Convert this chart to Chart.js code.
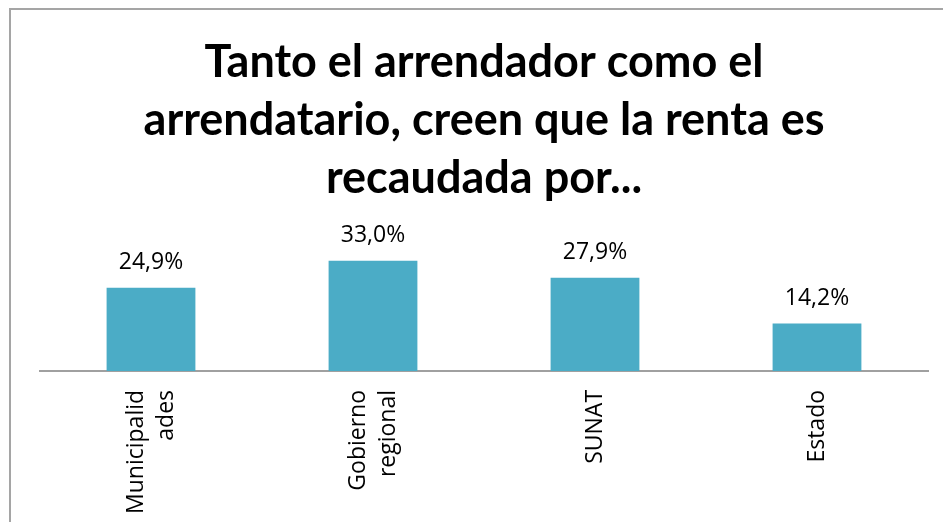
<!DOCTYPE html>
<html>
<head>
<meta charset="utf-8">
<script src="https://cdn.jsdelivr.net/npm/chart.js@4.4.0/dist/chart.umd.min.js"></script>
<style>
  html, body { margin: 0; padding: 0; overflow: hidden; background: #fff; }
  #wrap { position: relative; width: 943px; height: 522px; }
  #frame { position: absolute; left: 9px; top: 8px; width: 1000px; height: 600px;
           border: 2px solid #a5a5a5; pointer-events: none; }
</style>
</head>
<body>
<div id="wrap">
  <canvas id="bar-chartcanvas-1"></canvas>
  <div id="frame"></div>
</div>
<script>
// chart data
var titleLines = ["Tanto el arrendador como el", "arrendatario, creen que la renta es", "recaudada por..."];
var categories = [["Municipalid", "ades"], ["Gobierno", "regional"], "SUNAT", "Estado"];
var percentValues = [24.9, 33.0, 27.9, 14.2];

//value labels on top of each bar
var valueLabels = {
    id: "valueLabels",
    afterDatasetsDraw: function(chart) {
        var ctx = chart.ctx;
        var meta = chart.getDatasetMeta(0);
        ctx.save();
        ctx.font = "23px 'Open Sans'";
        ctx.fillStyle = "#000";
        ctx.textAlign = "center";
        ctx.textBaseline = "alphabetic";
        meta.data.forEach(function(bar, i) {
            var txt = percentValues[i].toFixed(1).replace(".", ",") + "%";
            ctx.fillText(txt, bar.x, bar.y - 19);
        });
        ctx.restore();
    }
};

//vertical category labels, multi-line ones centred on the tick
var catLabels = {
    id: "catLabels",
    afterDraw: function(chart) {
        var ctx = chart.ctx;
        var xs = chart.scales.x;
        var lh = 30;
        ctx.save();
        ctx.font = "23px 'Open Sans'";
        ctx.fillStyle = "#000";
        ctx.textAlign = "right";
        ctx.textBaseline = "middle";
        categories.forEach(function(lab, i) {
            var lines = Array.isArray(lab) ? lab : [lab];
            var cx = xs.getPixelForTick(i);
            lines.forEach(function(line, j) {
                var lx = cx + (j - (lines.length - 1) / 2) * lh;
                ctx.save();
                ctx.translate(lx, xs.top + 19);
                ctx.rotate(-Math.PI / 2);
                ctx.fillText(line, 0, 0);
                ctx.restore();
            });
        });
        ctx.restore();
    }
};

var ctx1 = document.getElementById("bar-chartcanvas-1");

var chart1 = new Chart(ctx1, {
    type: "bar",
    data: {
        labels: categories,
        datasets: [{
            data: percentValues,
            backgroundColor: "#4BACC6",
            borderWidth: 0,
            barPercentage: 0.4,
            categoryPercentage: 1.0
        }]
    },
    options: {
        responsive: true,
        maintainAspectRatio: false,
        animation: false,
        layout: { padding: { left: 40, right: 15, top: 0, bottom: -7 } },
        plugins: {
            legend: { display: false },
            tooltip: { enabled: false },
            title: {
                display: true,
                text: titleLines,
                color: "#000",
                font: { family: "Lato", size: 45, weight: "bold", lineHeight: 1.29 },
                padding: { top: 33, bottom: 47 }
            }
        },
        scales: {
            x: {
                grid: { display: false, drawTicks: false },
                border: { display: true, color: "#a0a0a0", width: 2 },
                ticks: {
                    // space is reserved here, text is drawn by catLabels
                    color: "rgba(0,0,0,0)",
                    font: { family: "Open Sans", size: 23, lineHeight: 1.3 },
                    minRotation: 90,
                    maxRotation: 90,
                    padding: 17,
                    autoSkip: false
                }
            },
            y: {
                display: false,
                min: 0,
                max: 35
            }
        }
    },
    plugins: [valueLabels, catLabels]
});
</script>
</body>
</html>
